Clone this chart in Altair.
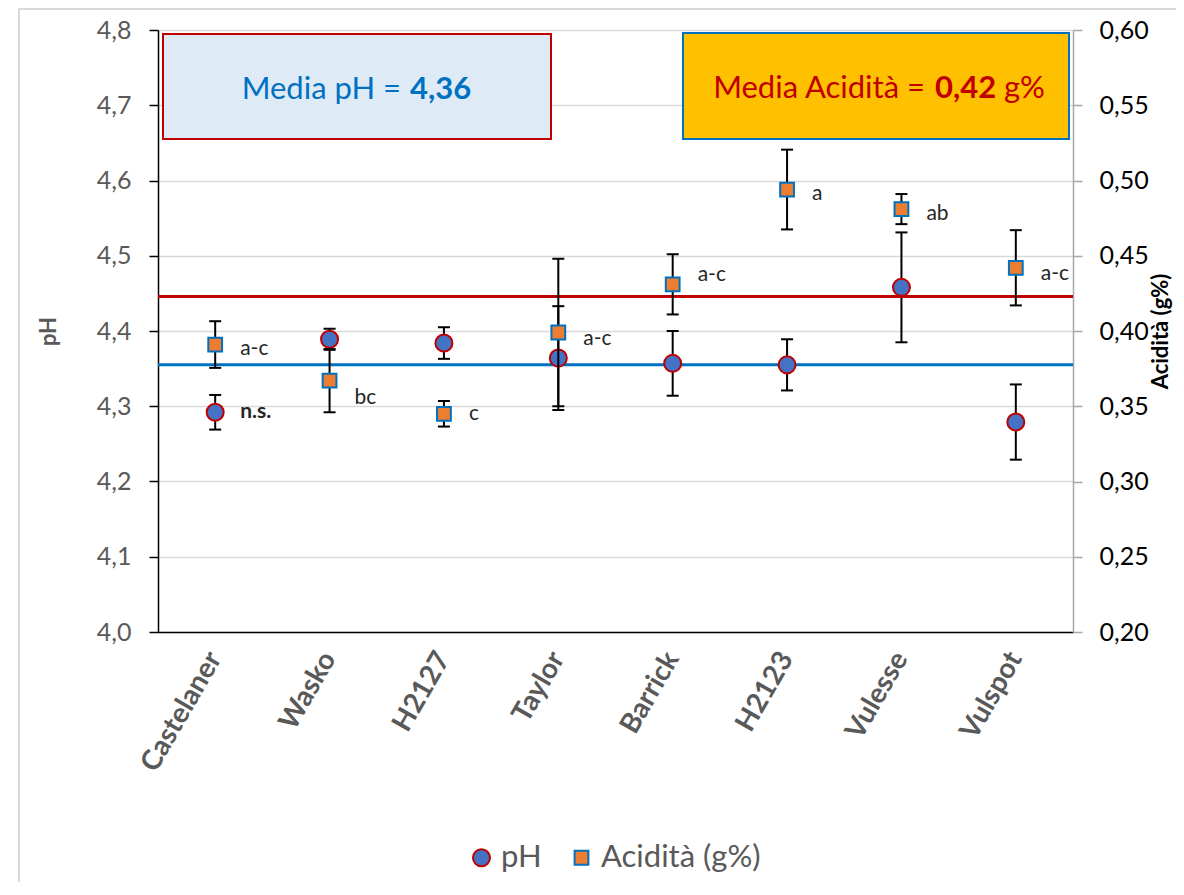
import altair as alt
import pandas as pd

# ---------------- data ----------------
varieties = ["Castelaner", "Wasko", "H2127", "Taylor", "Barrick", "H2123", "Vulesse", "Vulspot"]
ph = [4.292, 4.389, 4.384, 4.364, 4.357, 4.355, 4.458, 4.279]
ph_err = [0.023, 0.014, 0.021, 0.069, 0.043, 0.034, 0.073, 0.050]
acid = [0.391, 0.367, 0.345, 0.399, 0.431, 0.494, 0.481, 0.442]
acid_err = [0.0155, 0.021, 0.0085, 0.049, 0.020, 0.0265, 0.010, 0.025]
letters = ["a-c", "bc", "c", "a-c", "a-c", "a", "ab", "a-c"]
letter_y = [0.388, 0.3555, 0.345, 0.3947, 0.4372, 0.491, 0.4778, 0.4379]
ns_label = "n.s."
mean_ph = 4.355
mean_acid = 0.423
ph_ticks = [4.0, 4.1, 4.2, 4.3, 4.4, 4.5, 4.6, 4.7, 4.8]
acid_ticks = [0.20, 0.25, 0.30, 0.35, 0.40, 0.45, 0.50, 0.55, 0.60]
series_names = ["pH", "Acidità (g%)"]
box_ph_text = ["Media pH =", "4,36"]
box_acid_text = ["Media Acidità =", "0,42", "g%"]

FONT = "Lato"
W, H = 915, 602

df = pd.DataFrame({
    "variety": varieties, "ph": ph, "ph_err": ph_err,
    "acid": acid, "acid_err": acid_err,
    "letter": letters, "letter_y": letter_y,
})
one = pd.DataFrame({"a": [0]})

# ---------------- shared encodings ----------------
x_axis = alt.Axis(title=None, labelAngle=300, labelAlign="right", labelBaseline="middle",
                  labelFontSize=28, labelFontWeight="bold", labelColor="#595959",
                  labelPadding=22, ticks=False, domainColor="black", domainWidth=1.5,
                  grid=False, labelFont=FONT)
xenc = alt.X("variety:N", sort=varieties, scale=alt.Scale(paddingInner=0, paddingOuter=0), axis=x_axis)

ph_scale = alt.Scale(domain=[4.0, 4.8], nice=False, zero=False)
acid_scale = alt.Scale(domain=[0.2, 0.6], nice=False, zero=False)

ph_axis = alt.Axis(orient="left", values=ph_ticks,
                   labelExpr="replace(format(datum.value, '.1f'), '.', ',')",
                   grid=True, gridColor="#D9D9D9", gridWidth=1.5,
                   domainColor="black", domainWidth=1.5, tickColor="black", tickWidth=1.5,
                   tickSize=9, labelFontSize=25, labelColor="#595959", labelPadding=18,
                   labelFont=FONT, title="pH", titleFontSize=22, titleFontWeight="bold",
                   titleColor="#595959", titlePadding=36, titleFont=FONT)
acid_axis = alt.Axis(orient="right", values=acid_ticks,
                     labelExpr="replace(format(datum.value, '.2f'), '.', ',')",
                     grid=False, domainColor="#A6A6A6", domainWidth=1.5, tickColor="#A6A6A6",
                     tickWidth=1.5, tickSize=9, labelFontSize=25, labelColor="black",
                     labelPadding=17, labelFont=FONT, title="Acidità (g%)", titleFontSize=22,
                     titleFontWeight="bold", titleColor="black", titleAngle=270,
                     titlePadding=24, titleFont=FONT)

legend = alt.Legend(title=None, orient="none", legendX=308, legendY=812, direction="horizontal",
                    labelFontSize=31, labelColor="#595959", labelFont=FONT,
                    symbolStrokeWidth=2, columnPadding=24, labelOffset=4, symbolOpacity=1)
fill_enc = alt.Fill("series:N", scale=alt.Scale(domain=series_names, range=["#4472C4", "#ED7D31"]), legend=legend)
stroke_enc = alt.Stroke("series:N", scale=alt.Scale(domain=series_names, range=["#C00000", "#0070C0"]), legend=legend)
shape_enc = alt.Shape("series:N", scale=alt.Scale(domain=series_names, range=["circle", "square"]), legend=legend)
size_enc = alt.Size("series:N", scale=alt.Scale(domain=series_names, range=[290, 190]), legend=legend)

# ---------------- pH group ----------------
border = alt.Chart(one).mark_rect(fill="white", fillOpacity=0, stroke="#D9D9D9", strokeWidth=2).encode(
    x=alt.value(-139), x2=alt.value(1040), y=alt.value(-21), y2=alt.value(880))

ph_base = alt.Chart(df).transform_calculate(
    series="'pH'", lo="datum.ph - datum.ph_err", hi="datum.ph + datum.ph_err")

ph_mean_rule = alt.Chart(pd.DataFrame({"m": [mean_ph]})).mark_rule(
    color="#0070C0", strokeWidth=3).encode(y=alt.Y("m:Q", scale=ph_scale, axis=ph_axis))
ph_rule = ph_base.mark_rule(color="black", strokeWidth=2).encode(
    x=xenc, y=alt.Y("lo:Q", scale=ph_scale, axis=ph_axis), y2="hi:Q")
ph_cap_lo = ph_base.mark_tick(color="black", thickness=2, size=12, opacity=1).encode(
    x=xenc, y=alt.Y("lo:Q", scale=ph_scale, axis=ph_axis))
ph_cap_hi = ph_base.mark_tick(color="black", thickness=2, size=12, opacity=1).encode(
    x=xenc, y=alt.Y("hi:Q", scale=ph_scale, axis=ph_axis))
ph_pts = ph_base.mark_point(filled=True, strokeWidth=2, opacity=1).encode(
    x=xenc, y=alt.Y("ph:Q", scale=ph_scale, axis=ph_axis),
    fill=fill_enc, stroke=stroke_enc, shape=shape_enc, size=size_enc)
ns_df = pd.DataFrame({"variety": [varieties[0]], "v": [ph[0]], "t": [ns_label]})
ns_text = alt.Chart(ns_df).mark_text(align="left", baseline="middle", dx=25, fontSize=21,
                                     fontWeight="bold", font=FONT, color="#262626").encode(
    x=xenc, y=alt.Y("v:Q", scale=ph_scale, axis=ph_axis), text="t:N")

ph_group = alt.layer(border, ph_mean_rule, ph_rule, ph_cap_lo, ph_cap_hi, ph_pts, ns_text)

# ---------------- acidity group ----------------
ac_base = alt.Chart(df).transform_calculate(
    series="'Acidità (g%)'", lo="datum.acid - datum.acid_err", hi="datum.acid + datum.acid_err")

ac_mean_rule = alt.Chart(pd.DataFrame({"m": [mean_acid]})).mark_rule(
    color="#C00000", strokeWidth=3).encode(y=alt.Y("m:Q", scale=acid_scale, axis=acid_axis))
ac_rule = ac_base.mark_rule(color="black", strokeWidth=2).encode(
    x=xenc, y=alt.Y("lo:Q", scale=acid_scale, axis=acid_axis), y2="hi:Q")
ac_cap_lo = ac_base.mark_tick(color="black", thickness=2, size=12, opacity=1).encode(
    x=xenc, y=alt.Y("lo:Q", scale=acid_scale, axis=acid_axis))
ac_cap_hi = ac_base.mark_tick(color="black", thickness=2, size=12, opacity=1).encode(
    x=xenc, y=alt.Y("hi:Q", scale=acid_scale, axis=acid_axis))
ac_pts = ac_base.mark_point(filled=True, strokeWidth=2, opacity=1).encode(
    x=xenc, y=alt.Y("acid:Q", scale=acid_scale, axis=acid_axis),
    fill=fill_enc, stroke=stroke_enc, shape=shape_enc, size=size_enc)
ac_text = alt.Chart(df).mark_text(align="left", baseline="middle", dx=25, fontSize=21,
                                  font=FONT, color="#262626").encode(
    x=xenc, y=alt.Y("letter_y:Q", scale=acid_scale, axis=acid_axis), text="letter:N")

# annotation boxes
box_ph = alt.Chart(one).mark_rect(fill="#DEEBF7", stroke="#C00000", strokeWidth=2).encode(
    x=alt.value(5), x2=alt.value(393), y=alt.value(4), y2=alt.value(109))
box_ac = alt.Chart(one).mark_rect(fill="#FFC000", stroke="#0070C0", strokeWidth=2).encode(
    x=alt.value(525), x2=alt.value(911), y=alt.value(3), y2=alt.value(109))
t1 = alt.Chart(one).mark_text(align="right", baseline="alphabetic", fontSize=31, font=FONT,
                              color="#0070C0", text=box_ph_text[0]).encode(x=alt.value(243), y=alt.value(69))
t2 = alt.Chart(one).mark_text(align="left", baseline="alphabetic", fontSize=31, font=FONT,
                              fontWeight="bold", color="#0070C0", text=box_ph_text[1]).encode(
    x=alt.value(252), y=alt.value(69))
t3 = alt.Chart(one).mark_text(align="right", baseline="alphabetic", fontSize=31, font=FONT,
                              color="#C00000", text=box_acid_text[0]).encode(x=alt.value(767), y=alt.value(68))
t4 = alt.Chart(one).mark_text(align="left", baseline="alphabetic", fontSize=31, font=FONT,
                              fontWeight="bold", color="#C00000", text=box_acid_text[1]).encode(
    x=alt.value(777), y=alt.value(68))
t5 = alt.Chart(one).mark_text(align="left", baseline="alphabetic", fontSize=31, font=FONT,
                              color="#C00000", text=box_acid_text[2]).encode(x=alt.value(846), y=alt.value(68))

ac_group = alt.layer(ac_mean_rule, ac_rule, ac_cap_lo, ac_cap_hi, ac_pts, ac_text,
                     box_ph, box_ac, t1, t2, t3, t4, t5)

chart = alt.layer(ph_group, ac_group).resolve_scale(y="independent").properties(
    width=W, height=H,
    padding={"left": 150, "top": 22, "right": 103, "bottom": 250},
    autosize=alt.AutoSizeParams(type="none"),
    background="white",
).configure_view(stroke="transparent").configure(font=FONT)

chart.save("out.html", embed_options={"renderer": "svg", "actions": False})
